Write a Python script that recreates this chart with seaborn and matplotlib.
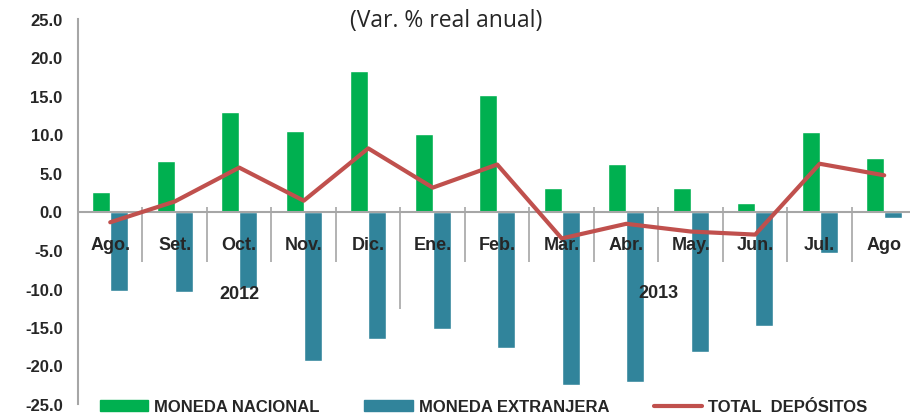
import numpy as np
import pandas as pd
import matplotlib
matplotlib.use('Agg')
import matplotlib.pyplot as plt
import seaborn as sns

meses = ['Ago.', 'Set.', 'Oct.', 'Nov.', 'Dic.', 'Ene.', 'Feb.', 'Mar.', 'Abr.', 'May.', 'Jun.', 'Jul.', 'Ago']
nacional = [2.5, 6.6, 12.9, 10.5, 18.3, 10.1, 15.1, 3.1, 6.2, 3.0, 1.1, 10.3, 6.9]
extranjera = [-10.3, -10.5, -9.9, -19.4, -16.5, -15.3, -17.7, -22.5, -22.1, -18.2, -14.9, -5.4, -0.8]
total = [-1.4, 1.3, 5.7, 1.4, 8.2, 3.1, 6.1, -3.5, -1.6, -2.6, -3.0, 6.2, 4.7]
anios = ['2012', '2013']
series = ['MONEDA NACIONAL', 'MONEDA EXTRANJERA', 'TOTAL  DEPÓSITOS']

sns.set_style('white')
plt.rcParams['font.family'] = ['Liberation Sans', 'DejaVu Sans']

df = pd.DataFrame({
    'mes': list(range(len(meses))) * 2,
    'valor': nacional + extranjera,
    'serie': [series[0]] * len(meses) + [series[1]] * len(meses),
})

fig = plt.figure(figsize=(9.1, 4.14), dpi=100)
ax = fig.add_axes([78 / 910, 1 - 405 / 414, 1 - 78 / 910, (405 - 20) / 414])

sns.barplot(data=df, x='mes', y='valor', hue='serie', width=0.56,
            palette=['#00B050', '#31849B'], saturation=1, ax=ax, legend=False)
sns.lineplot(x=np.arange(len(meses)), y=total, color='#C0504D', linewidth=3, ax=ax)

ax.set_ylim(-25, 25)
ax.set_xlim(-0.5, 12.4)
ax.set_yticks(np.arange(-25, 26, 5))
ax.set_yticklabels([f'{v:.1f}' for v in np.arange(-25, 26, 5)], fontsize=12, fontweight='bold')
ax.tick_params(axis='y', direction='inout', length=10, color='#A6A6A6', width=1.2, pad=6)
ax.set_xticks([])
ax.set_xlabel('')
ax.set_ylabel('')
for s in ['top', 'right', 'bottom']:
    ax.spines[s].set_visible(False)
ax.spines['left'].set_color('#A6A6A6')
ax.spines['left'].set_linewidth(1.5)
ax.axhline(0, color='#A6A6A6', linewidth=1.5, zorder=1)

# separadores de meses
for i in range(len(meses) - 1):
    bajo = -12.7 if i == 4 else -6.5
    ax.vlines(i + 0.5, bajo, 0.6, color='#A6A6A6', linewidth=1.2, zorder=1)

for i, m in enumerate(meses):
    ax.text(i, -4.3, m, ha='center', va='center', fontsize=13, fontweight='bold', zorder=5)
ax.text(2, -10.6, anios[0], ha='center', va='center', fontsize=13, fontweight='bold')
ax.text(8.5, -10.5, anios[1], ha='center', va='center', fontsize=13, fontweight='bold')

fig.text(0.49, 0.95, '(Var. % real anual)', ha='center', va='center', fontsize=16.5,
         family=['Open Sans', 'DejaVu Sans'])

handles = [plt.Rectangle((0, 0), 1, 1, color='#00B050'),
           plt.Rectangle((0, 0), 1, 1, color='#31849B'),
           plt.Line2D([0], [0], color='#C0504D', linewidth=3)]
fig.legend(handles, series, loc='lower left', bbox_to_anchor=(0.095, -0.035), ncol=3,
           frameon=False, handlelength=2.9, handleheight=0.6, handletextpad=0.35,
           columnspacing=2.7, borderpad=0.3,
           prop={'weight': 'bold', 'size': 12})

fig.savefig('out.png', dpi=100)
